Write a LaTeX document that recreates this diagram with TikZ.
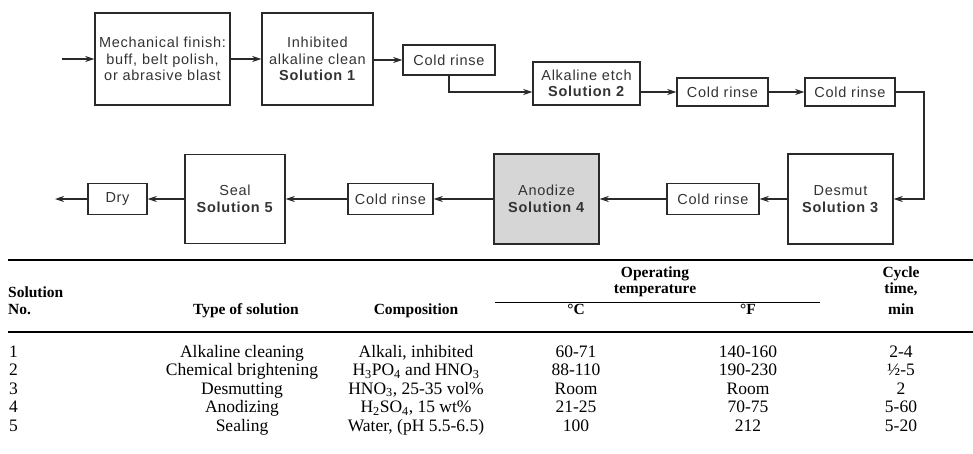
\documentclass[tikz,border=0pt]{standalone}
\usepackage{fontspec}
\setmainfont{Liberation Serif}
\newfontfamily\flowfont[LetterSpace=5]{Liberation Sans}
\usetikzlibrary{arrows.meta}
\definecolor{ink}{HTML}{2A2A2A}
\definecolor{txt}{HTML}{333333}
\definecolor{shade}{HTML}{D6D6D6}
\begin{document}
\begin{tikzpicture}[x=1pt,y=-1pt,
  box/.style={draw=ink, line width=1.4pt, align=center, inner sep=0pt, text=txt,
    font=\flowfont\fontsize{14.5}{16.5}\selectfont},
  conn/.style={draw=ink, line width=1.4pt, -{Stealth[length=9pt,width=6pt]}},
  cell/.style={inner sep=0pt, anchor=base, font=\fontsize{17.5}{19}\selectfont},
  head/.style={inner sep=0pt, anchor=base, font=\bfseries\fontsize{15.5}{17}\selectfont},
  tabrule/.style={draw=black, line width=1.3pt}]
\useasboundingbox (0,0) rectangle (973,453);

% ---- top row
\node[box, minimum width=135pt, minimum height=92pt] (mech) at (162.5,59)
  {Mechanical finish:\\buff, belt polish,\\or abrasive blast};
\node[box, minimum width=111pt, minimum height=92pt] (clean) at (317.5,59)
  {Inhibited\\alkaline clean\\\textbf{Solution 1}};
\node[box, minimum width=92pt, minimum height=30pt] (rinse1) at (449,60) {Cold rinse};
\node[box, minimum width=107pt, minimum height=43pt] (etch) at (586.5,83.5)
  {Alkaline etch\\\textbf{Solution 2}};
\node[box, minimum width=91pt, minimum height=28pt] (rinse2) at (722.5,92) {Cold rinse};
\node[box, minimum width=90pt, minimum height=28pt] (rinse3) at (850,92) {Cold rinse};

% ---- bottom row
\node[box, minimum width=105pt, minimum height=90pt] (desmut) at (840.5,199)
  {Desmut\\\textbf{Solution 3}};
\node[box, minimum width=92pt, minimum height=31pt] (rinse4) at (713,199) {Cold rinse};
\node[box, fill=shade, minimum width=105pt, minimum height=90pt] (anod) at (546.5,199)
  {Anodize\\\textbf{Solution 4}};
\node[box, minimum width=85pt, minimum height=31pt] (rinse5) at (390.5,199) {Cold rinse};
\node[box, minimum width=100pt, minimum height=89pt] (seal) at (235,199)
  {Seal\\\textbf{Solution 5}};
\node[box, minimum width=59pt, minimum height=31pt] (dry) at (117.5,199) {Dry};

\coordinate (in) at (62,59);
\coordinate (out) at (55,199);
\coordinate (turn) at (924,92);

\draw[conn] (in) -- (mech.west);
\draw[conn] (mech.east) -- (clean.west);
\draw[conn] (clean.east |- rinse1.west) -- (rinse1.west);
\draw[conn] (rinse1.south) |- (etch.west |- rinse2.west);
\draw[conn] (etch.east |- rinse2.west) -- (rinse2.west);
\draw[conn] (rinse2.east) -- (rinse3.east -| rinse3.west);
\draw[conn] (rinse3.east) -- (turn) |- (desmut.east);
\draw[conn] (desmut.west) -- (rinse4.east);
\draw[conn] (rinse4.west) -- (anod.east);
\draw[conn] (anod.west) -- (rinse5.east);
\draw[conn] (rinse5.west) -- (seal.east);
\draw[conn] (seal.west) -- (dry.east);
\draw[conn] (dry.west) -- (out);

% ---- table
\coordinate (r1a) at (8,260);  \coordinate (r1b) at (973,260);
\coordinate (r2a) at (495,302); \coordinate (r2b) at (820,302);
\coordinate (r3a) at (8,332);  \coordinate (r3b) at (973,332);
\draw[tabrule] (r1a) -- (r1b);
\draw[tabrule, line width=1pt] (r2a) -- (r2b);
\draw[tabrule] (r3a) -- (r3b);

\node[head, anchor=base west] (hsol) at (8,297) {Solution};
\node[head, anchor=base west] (hno) at (8,314) {No.};
\node[head] (htype) at (246,314) {Type of solution};
\node[head] (hcomp) at (416,314) {Composition};
\node[head] (hop) at (655,277) {Operating};
\node[head] (htemp) at (655,293) {temperature};
\node[head] (hc) at (576,314) {°C};
\node[head] (hf) at (748,314) {°F};
\node[head] (hcy) at (901,277) {Cycle};
\node[head] (hti) at (901,293) {time,};
\node[head] (hmin) at (901,314) {min};

\foreach \ty/\co/\dc/\df/\cy [count=\i] in {
  {Alkaline cleaning}/{Alkali, inhibited}/{60-71}/{140-160}/{2-4},
  {Chemical brightening}/{H\textsubscript{3}PO\textsubscript{4} and HNO\textsubscript{3}}/{88-110}/{190-230}/{½-5},
  {Desmutting}/{HNO\textsubscript{3}, 25-35 vol\%}/{Room}/{Room}/{2},
  {Anodizing}/{H\textsubscript{2}SO\textsubscript{4}, 15 wt\%}/{21-25}/{70-75}/{5-60},
  {Sealing}/{Water, (pH 5.5-6.5)}/{100}/{212}/{5-20}}
{
  \pgfmathsetmacro{\yy}{357+(\i-1)*18.6}
  \node[cell, anchor=base west] (n\i) at (9,\yy) {\i};
  \node[cell] (t\i) at (242,\yy) {\ty};
  \node[cell] (c\i) at (416,\yy) {\co};
  \node[cell] (dc\i) at (576,\yy) {\dc};
  \node[cell] (df\i) at (748,\yy) {\df};
  \node[cell] (cy\i) at (901,\yy) {\cy};
}
\end{tikzpicture}
\end{document}
